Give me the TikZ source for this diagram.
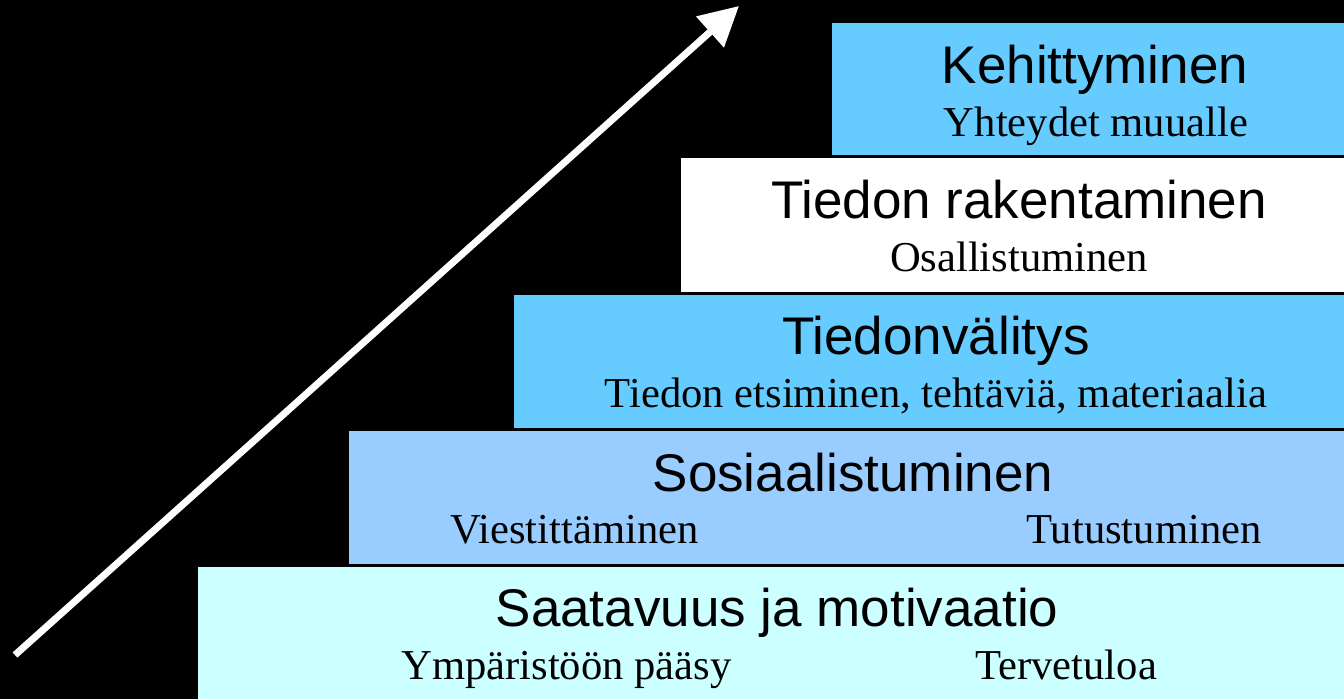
\documentclass[tikz,border=0pt]{standalone}
\usepackage{fontspec}
\setmainfont{Liberation Serif}
\newfontfamily\arialfont{Liberation Sans}
\usetikzlibrary{arrows.meta}
\definecolor{cyanA}{HTML}{66CCFF}
\definecolor{blueB}{HTML}{99CCFF}
\definecolor{paleC}{HTML}{CCFFFF}
\tikzset{
  stepbox/.style={draw=black, line width=0.75pt},
  titletext/.style={inner sep=0pt, anchor=base, font=\arialfont\fontsize{26.5}{30}\selectfont},
  subtext/.style={inner sep=0pt, anchor=base, font=\fontsize{21.3}{25}\selectfont},
  subleft/.style={subtext, anchor=base west},
  bigarrow/.style={draw=white, line width=3.5pt, -{Triangle[length=19.5pt,width=20pt]}}
}
\begin{document}
\begin{tikzpicture}[x=0.5pt,y=-0.5pt]
\useasboundingbox (0,0) rectangle (1344,699);
\fill[black] (0,0) rectangle (1344,699);
\clip (0,0) rectangle (1344,699);
% steps
\draw[stepbox, fill=cyanA] (831,22) rectangle (1358,156);
\draw[stepbox, fill=white] (680,157) rectangle (1358,293);
\draw[stepbox, fill=cyanA] (513,294) rectangle (1358,429);
\draw[stepbox, fill=blueB] (348,430) rectangle (1358,565);
\draw[stepbox, fill=paleC] (197,566) rectangle (1358,710);
% texts
\node[titletext] (t1) at (1095,84) {Kehittyminen};
\node[subtext] (s1) at (1096,137) {Yhteydet muualle};
\node[titletext] (t2) at (1019,219) {Tiedon rakentaminen};
\node[subtext] (s2) at (1019,272) {Osallistuminen};
\node[titletext] (t3) at (936,355) {Tiedonvälitys};
\node[subtext] (s3) at (936,408) {Tiedon etsiminen, tehtäviä, materiaalia};
\node[titletext] (t4) at (853,492) {Sosiaalistuminen};
\node[subleft] (s4a) at (450,544) {Viestittäminen};
\node[subleft] (s4b) at (1026,544) {Tutustuminen};
\node[titletext] (t5) at (777,627) {Saatavuus ja motivaatio};
\node[subleft] (s5a) at (401,680) {Ympäristöön pääsy};
\node[subleft] (s5b) at (975,680) {Tervetuloa};
% arrow
\coordinate (arrowstart) at (15,655);
\coordinate (arrowend) at (739,6);
\draw[bigarrow] (arrowstart) -- (arrowend);
\end{tikzpicture}
\end{document}
